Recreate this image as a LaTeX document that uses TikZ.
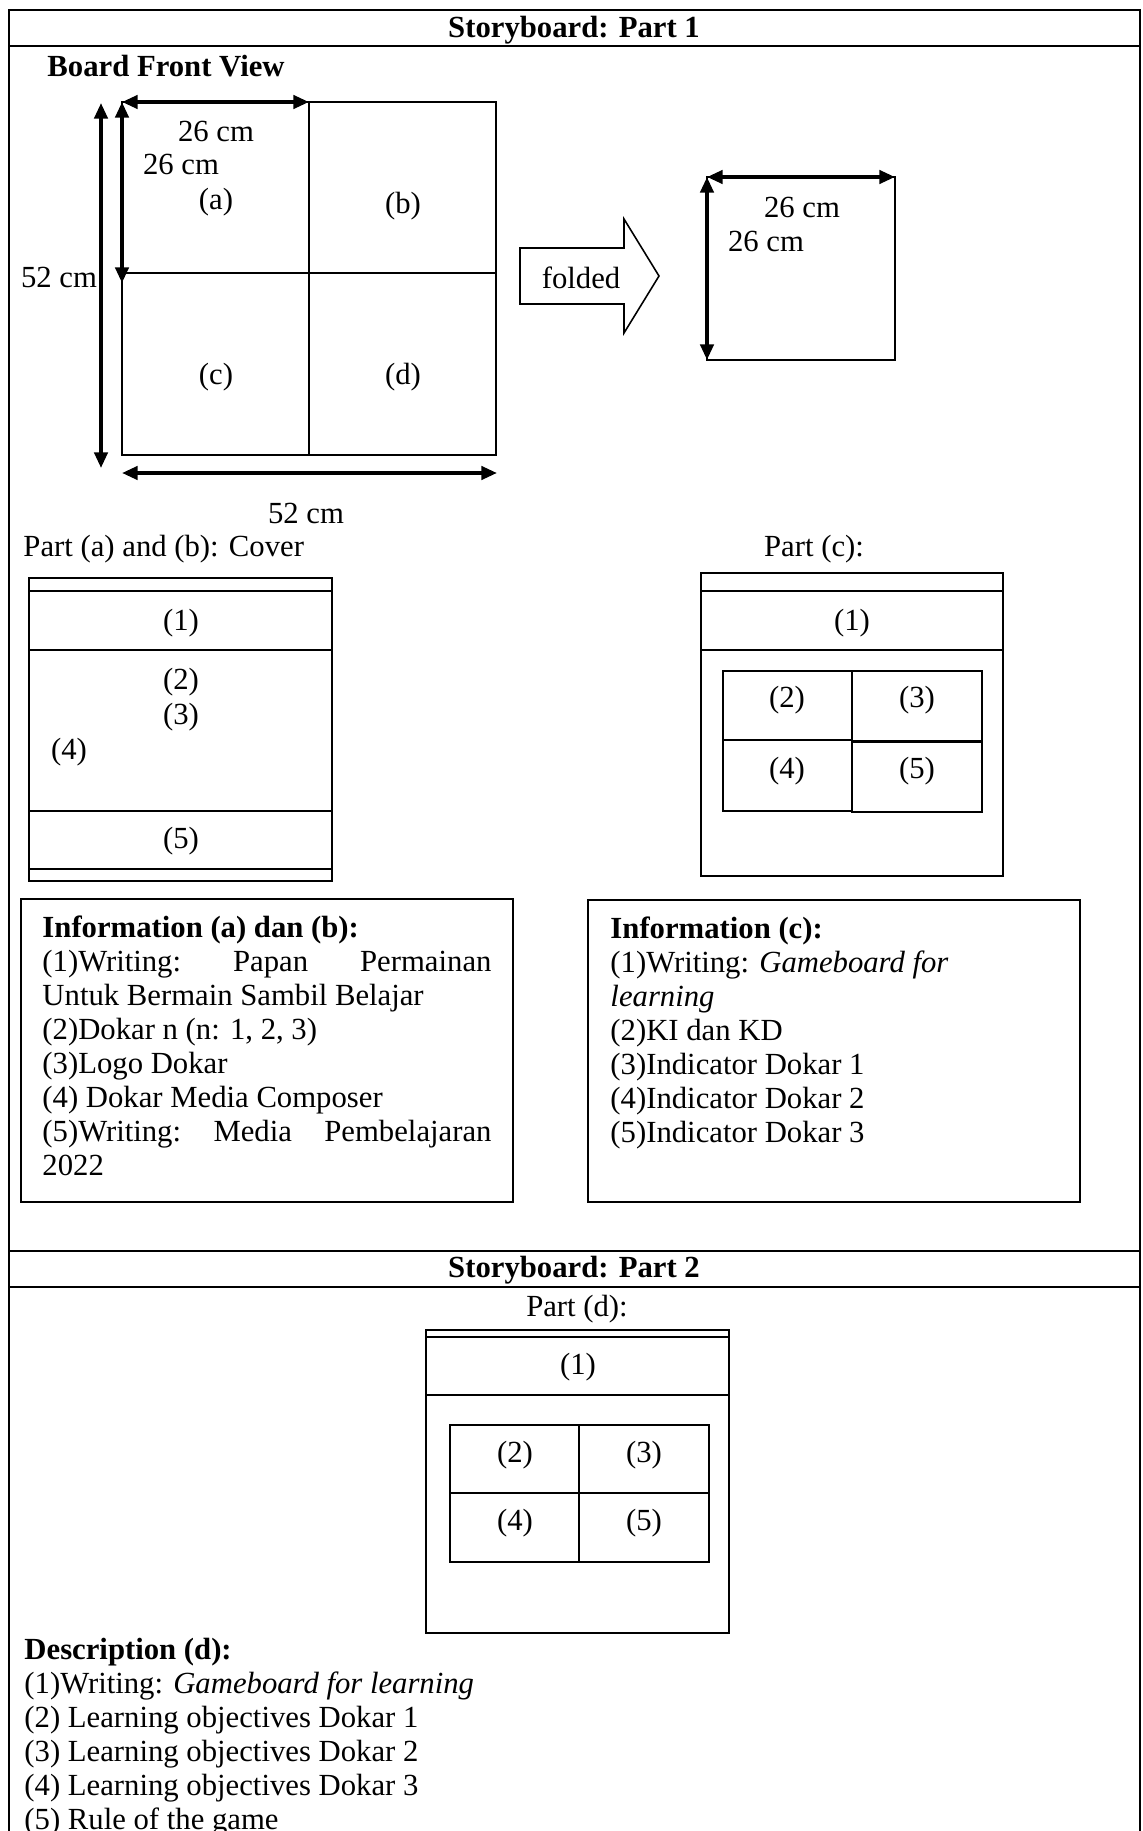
\documentclass[tikz,border=0pt]{standalone}
\usepackage{fontspec}
\setmainfont{Liberation Serif}
\usetikzlibrary{arrows.meta}
\begin{document}
\begin{tikzpicture}[x=0.4136pt,y=-0.4136pt,
  txt/.style={font=\fontsize{12.7}{14.06}\selectfont, inner sep=0pt},
  hd/.style={font=\fontsize{12.7}{14.06}\selectfont\bfseries, inner sep=0pt},
  tbl/.style={line width=1.2pt},
  bx/.style={line width=0.65pt},
  dimarrow/.style={line width=1.5pt, {Triangle[length=6.5pt,width=5.5pt]}-{Triangle[length=6.5pt,width=5.5pt]}},
]
\useasboundingbox (0,0) rectangle (1143,1831);

% ---------- table frame ----------
\draw[tbl] (9,1845) -- (9,10) -- (1140,10) -- (1140,1845);
\draw[tbl] (9,46) -- (1140,46);
\draw[tbl] (9,1251) -- (1140,1251);
\draw[tbl] (9,1287) -- (1140,1287);
\node[hd] (h1) at (574,30) {Storyboard: Part 1};
\node[hd] (h2) at (574,1270) {Storyboard: Part 2};

% ---------- board front view ----------
\node[hd, anchor=west] (bfv) at (47,66) {Board Front View};
\draw[bx] (122,102) rectangle (496,455);
\draw[bx] (309,102) -- (309,455);
\draw[bx] (122,273) -- (496,273);
\node[txt] (la) at (216,202) {(a)};
\node[txt] (lb) at (403,206) {(b)};
\node[txt] (lc) at (216,377) {(c)};
\node[txt] (ld) at (403,377) {(d)};
\node[txt] (w1) at (216,131) {26 cm};
\node[txt] (h1l) at (181,164) {26 cm};
\node[txt] (hb) at (59,277) {52 cm};
\node[txt] (wb) at (306,513) {52 cm};
\coordinate (tl) at (122,102);
\coordinate (tm) at (309,102);
\coordinate (lm) at (122,283);
\coordinate (vl1) at (101,103);
\coordinate (vl2) at (101,468);
\coordinate (bl) at (122,473);
\coordinate (br) at (497,473);
\draw[dimarrow] (tl) -- (tm);
\draw[dimarrow] (tl) -- (lm);
\draw[dimarrow] (vl1) -- (vl2);
\draw[dimarrow] (bl) -- (br);

% folded arrow
\draw[bx] (520,248) -- (624,248) -- (624,219) -- (659,276) -- (624,333) -- (624,304) -- (520,304) -- cycle;
\node[txt] (fold) at (581,278) {folded};

% folded square
\draw[bx] (707,177) rectangle (895,360);
\coordinate (sq1) at (707,177);
\coordinate (sq2) at (895,177);
\coordinate (sq3) at (707,360);
\draw[dimarrow] (sq1) -- (sq2);
\draw[dimarrow] (sq1) -- (sq3);
\node[txt] (sw) at (802,207) {26 cm};
\node[txt] (sh) at (766,241) {26 cm};

% ---------- part (a) and (b) cover ----------
\node[txt, anchor=west] (pab) at (23,549) {Part (a) and (b): Cover};
\draw[bx] (29,578) rectangle (332,881);
\draw[bx] (29,591) -- (332,591);
\draw[bx] (29,650) -- (332,650);
\draw[bx] (29,811) -- (332,811);
\draw[bx] (29,869) -- (332,869);
\node[txt] (c1) at (181,623) {(1)};
\node[txt] (c2) at (181,682) {(2)};
\node[txt] (c3) at (181,717) {(3)};
\node[txt] (c4) at (69,752) {(4)};
\node[txt] (c5) at (181,841) {(5)};

% ---------- part (c) ----------
\node[txt] (pc) at (814,549) {Part (c):};
\draw[bx] (701,573) rectangle (1003,876);
\draw[bx] (701,591) -- (1003,591);
\draw[bx] (701,650) -- (1003,650);
\draw[bx] (723,671) rectangle (852,740);
\draw[bx] (723,740) rectangle (852,811);
\draw[bx] (852,671) rectangle (982,741);
\draw[bx] (852,742) rectangle (982,812);
\node[txt] (pc1) at (852,623) {(1)};
\node[txt] (pc2) at (787,700) {(2)};
\node[txt] (pc3) at (917,700) {(3)};
\node[txt] (pc4) at (787,771) {(4)};
\node[txt] (pc5) at (917,771) {(5)};

% ---------- information (a) dan (b) ----------
\draw[bx] (21,899) rectangle (513,1202);
\node[hd, anchor=base west] (ia0) at (42,937) {Information (a) dan (b):};
\node[txt, anchor=base west] (ia1) at (42,971) {\hbox to 185.7pt{(1)Writing:\hfill Papan\hfill Permainan}};
\node[txt, anchor=base west] (ia2) at (42,1005) {Untuk Bermain Sambil Belajar};
\node[txt, anchor=base west] (ia3) at (42,1039) {(2)Dokar n (n: 1, 2, 3)};
\node[txt, anchor=base west] (ia4) at (42,1073) {(3)Logo Dokar};
\node[txt, anchor=base west] (ia5) at (42,1107) {(4) Dokar Media Composer};
\node[txt, anchor=base west] (ia6) at (42,1141) {\hbox to 185.7pt{(5)Writing:\hfill Media\hfill Pembelajaran}};
\node[txt, anchor=base west] (ia7) at (42,1175) {2022};

% ---------- information (c) ----------
\draw[bx] (588,900) rectangle (1080,1202);
\node[hd, anchor=base west] (ic0) at (610,938) {Information (c):};
\node[txt, anchor=base west] (ic1) at (610,972) {(1)Writing: \textit{Gameboard for}};
\node[txt, anchor=base west] (ic2) at (610,1006) {\textit{learning}};
\node[txt, anchor=base west] (ic3) at (610,1040) {(2)KI dan KD};
\node[txt, anchor=base west] (ic4) at (610,1074) {(3)Indicator Dokar 1};
\node[txt, anchor=base west] (ic5) at (610,1108) {(4)Indicator Dokar 2};
\node[txt, anchor=base west] (ic6) at (610,1142) {(5)Indicator Dokar 3};

% ---------- part (d) ----------
\node[txt] (pd) at (577,1309) {Part (d):};
\draw[bx] (426,1330) rectangle (729,1633);
\draw[bx] (426,1337) -- (729,1337);
\draw[bx] (426,1395) -- (729,1395);
\draw[bx] (450,1425) rectangle (709,1562);
\draw[bx] (579,1425) -- (579,1562);
\draw[bx] (450,1493) -- (709,1493);
\node[txt] (pd1) at (578,1367) {(1)};
\node[txt] (pd2) at (515,1455) {(2)};
\node[txt] (pd3) at (644,1455) {(3)};
\node[txt] (pd4) at (515,1523) {(4)};
\node[txt] (pd5) at (644,1523) {(5)};

% ---------- description (d) ----------
\node[hd, anchor=base west] (dd0) at (24,1659) {Description (d):};
\node[txt, anchor=base west] (dd1) at (24,1693) {(1)Writing: \textit{Gameboard for learning}};
\node[txt, anchor=base west] (dd2) at (24,1727) {(2) Learning objectives Dokar 1};
\node[txt, anchor=base west] (dd3) at (24,1761) {(3) Learning objectives Dokar 2};
\node[txt, anchor=base west] (dd4) at (24,1795) {(4) Learning objectives Dokar 3};
\node[txt, anchor=base west] (dd5) at (24,1829) {(5) Rule of the game};
\end{tikzpicture}
\end{document}
